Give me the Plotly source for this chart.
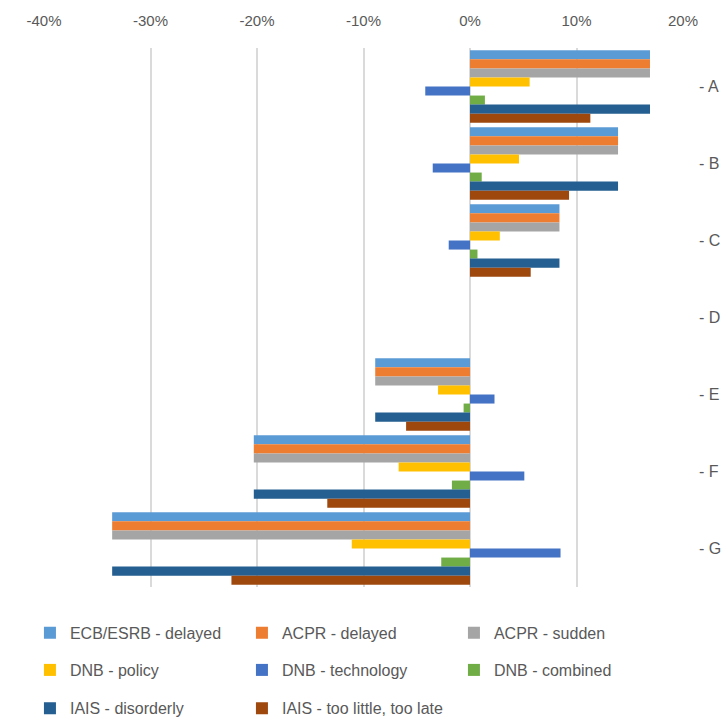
import plotly.graph_objects as go

categories = ["A", "B", "C", "D", "E", "F", "G"]
tick_text = ["- A", "- B", "- C", "- D", "- E", "- F", "- G"]

ecb_esrb_delayed = [16.9, 13.9, 8.4, 0, -8.9, -20.3, -33.6]
acpr_delayed = [16.9, 13.9, 8.4, 0, -8.9, -20.3, -33.6]
acpr_sudden = [16.9, 13.9, 8.4, 0, -8.9, -20.3, -33.6]
dnb_policy = [5.6, 4.6, 2.8, 0, -3.0, -6.7, -11.1]
dnb_technology = [-4.2, -3.5, -2.0, 0, 2.3, 5.1, 8.5]
dnb_combined = [1.4, 1.1, 0.7, 0, -0.6, -1.7, -2.7]
iais_disorderly = [16.9, 13.9, 8.4, 0, -8.9, -20.3, -33.6]
iais_too_little = [11.3, 9.3, 5.7, 0, -6.0, -13.4, -22.4]

x_ticks = [-40, -30, -20, -10, 0, 10, 20]
x_tick_labels = ["-40%", "-30%", "-20%", "-10%", "0%", "10%", "20%"]

series = [
    ("ECB/ESRB - delayed", ecb_esrb_delayed, "#5B9BD5", "legend"),
    ("ACPR - delayed", acpr_delayed, "#ED7D31", "legend"),
    ("ACPR - sudden", acpr_sudden, "#A5A5A5", "legend"),
    ("DNB - policy", dnb_policy, "#FFC000", "legend2"),
    ("DNB - technology", dnb_technology, "#4472C4", "legend2"),
    ("DNB - combined", dnb_combined, "#70AD47", "legend2"),
    ("IAIS - disorderly", iais_disorderly, "#255E91", "legend3"),
    ("IAIS - too little, too late", iais_too_little, "#9E480E", "legend3"),
]

FONT = "Liberation Sans, Arial, sans-serif"
TXT = "#595959"

fig = go.Figure()
for name, vals, color, leg in series:
    fig.add_trace(go.Bar(
        y=categories, x=vals, name=name, orientation="h",
        marker=dict(color=color, line=dict(width=0)),
        legend=leg,
    ))


def legend_row(y):
    return dict(
        orientation="h", x=-0.022, xanchor="left", y=y, yanchor="middle",
        entrywidth=167, entrywidthmode="pixels",
        font=dict(family=FONT, size=16, color=TXT),
        bgcolor="rgba(0,0,0,0)", itemclick=False, itemdoubleclick=False,
    )


fig.update_layout(
    width=722, height=718,
    margin=dict(l=44, r=39, t=48, b=131, autoexpand=False),
    paper_bgcolor="white", plot_bgcolor="white",
    barmode="group", bargap=0.06, bargroupgap=0,
    font=dict(family=FONT, color=TXT),
    showlegend=True,
    legend=legend_row(-0.085),
    legend2=legend_row(-0.154),
    legend3=legend_row(-0.225),
    xaxis=dict(
        side="top", range=[-40, 20], tickvals=x_ticks, ticktext=x_tick_labels,
        showgrid=True, gridcolor="#DADADA", gridwidth=1.5,
        zeroline=True, zerolinecolor="#DADADA", zerolinewidth=1.5,
        showline=False, ticks="", ticklabelstandoff=18,
        tickfont=dict(family=FONT, size=15, color=TXT),
    ),
    yaxis=dict(
        side="right", autorange="reversed", tickvals=categories, ticktext=tick_text,
        showgrid=False, zeroline=False, showline=False, ticks="",
        ticklabelstandoff=15,
        tickfont=dict(family=FONT, size=16, color=TXT),
    ),
)

fig.write_html("out.html")
